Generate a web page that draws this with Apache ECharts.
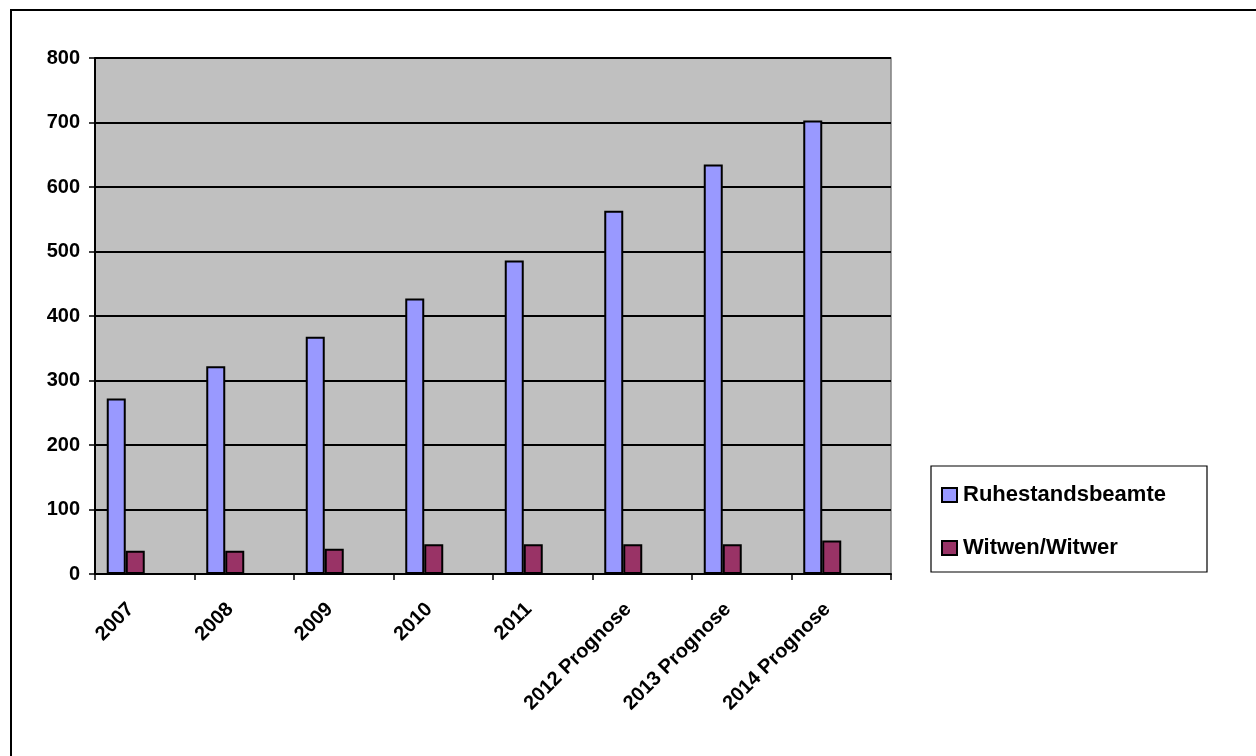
<!DOCTYPE html>
<html>
<head>
<meta charset="utf-8">
<title>Ruhestandsbeamte und Witwen/Witwer</title>
<script src="https://cdn.jsdelivr.net/npm/echarts@6/dist/echarts.min.js"></script>
<style>
  html, body { margin: 0; padding: 0; background: #fff; }
  #chart { width: 1256px; height: 756px; }
</style>
</head>
<body>
<div id="chart"></div>
<script>
// Kategorien (x-Achse)
const categories = ['2007', '2008', '2009', '2010', '2011', '2012 Prognose', '2013 Prognose', '2014 Prognose'];
// Werte
const ruhestandsbeamte = [272, 322, 368, 427, 486, 563, 635, 703];
const witwenWitwer = [36, 36, 39, 46, 46, 46, 46, 52];
// y-Achse
const yTicks = [0, 100, 200, 300, 400, 500, 600, 700, 800];

const font = 'Liberation Sans, Arial, Helvetica, sans-serif';
const chart = echarts.init(document.getElementById('chart'));

const barBase = {
  type: 'bar',
  barWidth: 19,
  barGap: '0%',
  barCategoryGap: '23.6%',
  itemStyle: { borderColor: '#000', borderWidth: 2 }
};

const option = {
  animation: false,
  backgroundColor: '#fff',
  textStyle: { fontFamily: font },
  graphic: [
    // äußerer Rahmen
    {
      type: 'rect', z: 0, silent: true,
      shape: { x: 11, y: 10, width: 1300, height: 800 },
      style: { fill: 'none', stroke: '#000', lineWidth: 2 }
    },
    // Legendenrahmen
    {
      type: 'rect', z: 1, silent: true,
      shape: { x: 931, y: 466, width: 276, height: 106 },
      style: { fill: '#fff', stroke: '#000', lineWidth: 1.2 }
    }
  ],
  grid: {
    left: 95, right: 365, top: 58, bottom: 182,
    show: true,
    backgroundColor: '#C0C0C0',
    borderColor: '#808080',
    borderWidth: 1.5
  },
  legend: {
    orient: 'vertical',
    left: 931, top: 466,
    padding: [18, 10, 15, 10],
    itemGap: 31,
    itemWidth: 15,
    itemHeight: 14,
    icon: 'rect',
    data: ['Ruhestandsbeamte', 'Witwen/Witwer'],
    textStyle: { fontFamily: font, fontSize: 22, fontWeight: 'bold', color: '#000', padding: [0, 0, 0, 1] }
  },
  xAxis: {
    type: 'category',
    data: categories,
    axisLine: { lineStyle: { color: '#000', width: 2 } },
    axisTick: { show: true, length: 6, lineStyle: { color: '#000', width: 1.5 } },
    axisLabel: {
      rotate: 45,
      margin: 18,
      interval: 0,
      padding: [0, 20, 0, 0],
      color: '#000',
      fontFamily: font,
      fontSize: 20,
      fontWeight: 'bold'
    }
  },
  yAxis: {
    type: 'value',
    min: yTicks[0],
    max: yTicks[yTicks.length - 1],
    interval: yTicks[1] - yTicks[0],
    axisLine: { show: true, lineStyle: { color: '#000', width: 2 } },
    axisTick: { show: true, length: 6, lineStyle: { color: '#000', width: 1.5 } },
    axisLabel: {
      margin: 15,
      color: '#000',
      fontFamily: font,
      fontSize: 20,
      fontWeight: 'bold'
    },
    splitLine: { lineStyle: { color: '#000', width: 1.8 } }
  },
  series: [
    Object.assign({}, barBase, {
      name: 'Ruhestandsbeamte',
      data: ruhestandsbeamte,
      itemStyle: { color: '#9999FF', borderColor: '#000', borderWidth: 2 }
    }),
    Object.assign({}, barBase, {
      name: 'Witwen/Witwer',
      data: witwenWitwer,
      itemStyle: { color: '#993366', borderColor: '#000', borderWidth: 2 }
    }),
    // leere Reihen wie im Original (Platzhalter neben den Balken)
    Object.assign({}, barBase, { name: 'leer1', data: categories.map(() => '-') }),
    Object.assign({}, barBase, { name: 'leer2', data: categories.map(() => '-') })
  ]
};

chart.setOption(option);
window.addEventListener('resize', () => chart.resize());
</script>
</body>
</html>
